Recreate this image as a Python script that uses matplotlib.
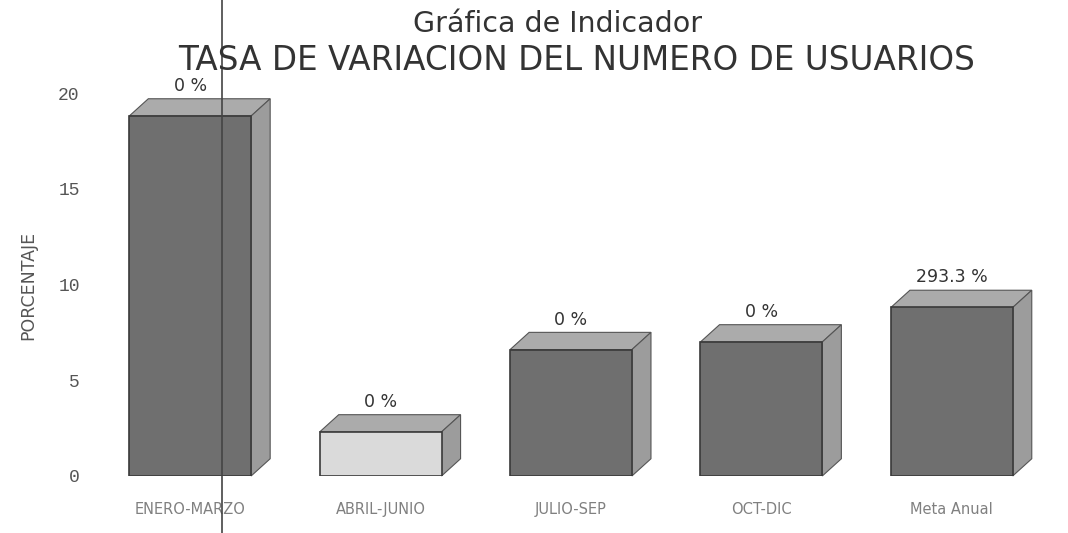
import matplotlib.pyplot as plt
from matplotlib.patches import Polygon
from matplotlib.lines import Line2D

categories = ["ENERO-MARZO", "ABRIL-JUNIO", "JULIO-SEP", "OCT-DIC", "Meta Anual"]
values = [18.8, 2.3, 6.6, 7.0, 8.8]
value_labels = ["0 %", "0 %", "0 %", "0 %", "293.3 %"]
front_colors = ["#6f6f6f", "#dadada", "#6f6f6f", "#6f6f6f", "#6f6f6f"]
yticks = [0, 5, 10, 15, 20]

fig = plt.figure(figsize=(10.68, 5.33), dpi=100)
ax = fig.add_axes([95 / 1068, 0.107, 952 / 1068, 0.7185])
ax.set_xlim(-0.5, 4.5)
ax.set_ylim(0, 20)

width = 0.64
dx, dy = 0.1, 0.9  # 3d depth offset in data units

for i, (v, c) in enumerate(zip(values, front_colors)):
    x0, x1 = i - width / 2, i + width / 2
    ax.bar(i, v, width=width, color=c, edgecolor="#3a3a3a", linewidth=1.2, zorder=3)
    top = Polygon([(x0, v), (x0 + dx, v + dy), (x1 + dx, v + dy), (x1, v)],
                  closed=True, facecolor="#ababab", edgecolor="#555555", lw=0.8,
                  zorder=2, clip_on=False)
    side = Polygon([(x1, 0), (x1 + dx, dy), (x1 + dx, v + dy), (x1, v)],
                   closed=True, facecolor="#9c9c9c", edgecolor="#555555", lw=0.8,
                   zorder=2, clip_on=False)
    ax.add_patch(top)
    ax.add_patch(side)
    ax.text(i, v + dy + 0.2, value_labels[i], ha="center", va="bottom",
            fontsize=12.5, color="#333333", clip_on=False)

ax.set_xticks(range(len(categories)))
ax.set_xticklabels(categories, fontsize=10.5, color="#808080")
ax.set_yticks(yticks)
ax.set_yticklabels([str(t) for t in yticks], family="Liberation Mono",
                   fontsize=13, color="#555555")
ax.tick_params(axis="both", length=0)
ax.tick_params(axis="x", pad=19)
ax.tick_params(axis="y", pad=11)
for s in ax.spines.values():
    s.set_visible(False)

fig.text(28 / 1068, 0.465, "PORCENTAJE", rotation=90, ha="center", va="center",
         fontsize=12.5, color="#555555")

fig.text(0.522, 0.955, "Gráfica de Indicador", ha="center", va="center",
         fontsize=20.5, color="#333333")
fig.text(0.54, 0.886, "TASA DE VARIACION DEL NUMERO DE USUARIOS", ha="center",
         va="center", fontsize=23.5, color="#333333")

# fold line from the scanned page
fig.add_artist(Line2D([222 / 1068, 222 / 1068], [0, 1], color="#444444", lw=1.2))

fig.savefig("out.png", dpi=100)
